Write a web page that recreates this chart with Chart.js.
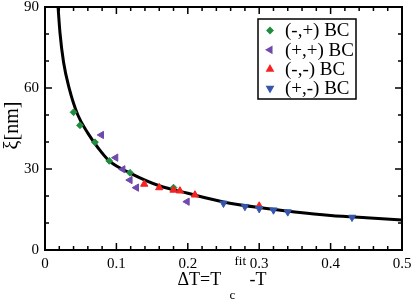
<!DOCTYPE html>
<html>
<head>
<meta charset="utf-8">
<script src="https://cdn.jsdelivr.net/npm/chart.js@4/dist/chart.umd.min.js"></script>
<style>
  html, body { margin: 0; padding: 0; background: #fff; }
  #wrap { width: 412px; height: 302px; }
</style>
</head>
<body>
<div id="wrap"><canvas id="xiChart" width="412" height="302"></canvas></div>
<script>
// ===== Data =====

// (-,+) BC  green diamonds
const mpT  = [0.040, 0.049, 0.070, 0.090, 0.119, 0.180];
const mpXi = [51.0, 46.2, 39.9, 33.0, 28.6, 23.1];

// (+,+) BC  purple left triangles
const ppT  = [0.079, 0.099, 0.109, 0.119, 0.128, 0.199];
const ppXi = [42.6, 34.2, 29.9, 25.9, 23.1, 17.9];

// (-,-) BC  red up triangles
const mmT  = [0.139, 0.160, 0.180, 0.189, 0.210, 0.300];
const mmXi = [24.4, 23.1, 22.2, 21.9, 20.4, 16.3];

// (+,-) BC  blue down triangles
const pmT  = [0.250, 0.280, 0.300, 0.320, 0.340, 0.430];
const pmXi = [17.3, 16.1, 15.3, 14.8, 14.1, 12.1];

// fitted curve, points
const fitT  = [0.0175, 0.021, 0.026, 0.034, 0.046, 0.060, 0.075, 0.090, 0.120, 0.160, 0.200, 0.250, 0.300, 0.350, 0.400, 0.450, 0.500];
const fitXi = [93.0, 80.4, 69.5, 59.8, 50.0, 43.3, 37.6, 33.0, 28.4, 23.8, 21.0, 17.8, 15.7, 14.1, 12.8, 11.9, 11.1];

// axis ticks
const xTicks = [0, 0.1, 0.2, 0.3, 0.4, 0.5];
const yTicks = [0, 30, 60, 90];
const xMinorStep = 0.02;
const yMinorStep = 10;

const seriesLabels = ["(-,+) BC", "(+,+) BC", "(-,-) BC", "(+,-) BC"];

const SERIF = "'Liberation Serif', 'DejaVu Serif', serif";

const pts = (xs, ys) => xs.map((x, i) => ({ x: x, y: ys[i] }));

// ===== Frame, inward ticks, titles and legend =====
const decor = {
  id: "decor",
  afterDraw(chart) {
    const ctx = chart.ctx;
    const a = chart.chartArea;
    const xs = chart.scales.x;
    const ys = chart.scales.y;
    ctx.save();
    ctx.strokeStyle = "#000";

    // ticks on all four sides, pointing in
    ctx.lineWidth = 1.5;
    ctx.beginPath();
    for (let v = xs.min; v <= xs.max + 1e-9; v += xMinorStep) {
      const px = xs.getPixelForValue(v);
      const major = xTicks.some(t => Math.abs(t - v) < 1e-6);
      const len = major ? 7 : 4;
      ctx.moveTo(px, a.bottom); ctx.lineTo(px, a.bottom - len);
      ctx.moveTo(px, a.top); ctx.lineTo(px, a.top + len);
    }
    for (let v = ys.min; v <= ys.max + 1e-9; v += yMinorStep) {
      const py = ys.getPixelForValue(v);
      const major = yTicks.some(t => Math.abs(t - v) < 1e-6);
      const len = major ? 7 : 4;
      ctx.moveTo(a.left, py); ctx.lineTo(a.left + len, py);
      ctx.moveTo(a.right, py); ctx.lineTo(a.right - len, py);
    }
    ctx.stroke();

    // frame
    ctx.lineWidth = 2;
    ctx.strokeRect(a.left, a.top, a.right - a.left, a.bottom - a.top);

    // x title: ΔT=T_c^fit-T
    ctx.fillStyle = "#000";
    ctx.textBaseline = "alphabetic";
    ctx.textAlign = "left";
    const cx = (a.left + a.right) / 2;
    const x0 = cx - 46;
    ctx.font = "18px " + SERIF;
    ctx.fillText("\u0394T=T", x0, 285);
    ctx.font = "13px " + SERIF;
    ctx.fillText("c", x0 + 52, 299);
    ctx.fillText("fit", x0 + 57, 265);
    ctx.font = "18px " + SERIF;
    ctx.fillText("-T", x0 + 72, 285);

    // y title
    ctx.save();
    ctx.translate(13, (a.top + a.bottom) / 2 - 3);
    ctx.rotate(-Math.PI / 2);
    ctx.textAlign = "center";
    ctx.textBaseline = "middle";
    ctx.font = "20px " + SERIF;
    ctx.fillText("\u03be[nm]", 0, 0);
    ctx.restore();

    // legend with box
    const lx = 258, ly = 19, lw = 98, lh = 80;
    ctx.fillStyle = "#fff";
    ctx.fillRect(lx, ly, lw, lh);
    ctx.lineWidth = 1.5;
    ctx.strokeStyle = "#000";
    ctx.strokeRect(lx, ly, lw, lh);
    ctx.font = "19px " + SERIF;
    ctx.textBaseline = "middle";
    ctx.textAlign = "left";
    seriesLabels.forEach((lab, i) => {
      const ds = chart.data.datasets[i];
      const rowY = ly + 11.5 + i * 19.3;
      ctx.fillStyle = ds.backgroundColor;
      ctx.strokeStyle = ds.borderColor;
      Chart.helpers.drawPoint(ctx, {
        pointStyle: ds.pointStyle,
        rotation: ds.rotation || 0,
        radius: ds.pointRadius * 0.85,
        borderWidth: 1
      }, lx + 12, rowY);
      ctx.fillStyle = "#000";
      ctx.fillText(lab, lx + 27, rowY + 1);
    });
    ctx.restore();
  }
};

// ===== Chart =====
const ctx = document.getElementById("xiChart").getContext("2d");

new Chart(ctx, {
  type: "scatter",
  data: {
    datasets: [
      {
        label: seriesLabels[0], data: pts(mpT, mpXi),
        pointStyle: "rectRot", pointRadius: 3.4, pointBorderWidth: 1,
        backgroundColor: "#1f8c3e", borderColor: "#1f8c3e", order: 4
      },
      {
        label: seriesLabels[1], data: pts(ppT, ppXi),
        pointStyle: "triangle", rotation: -90, pointRadius: 4.2, pointBorderWidth: 1,
        backgroundColor: "#7049ad", borderColor: "#7049ad", order: 3
      },
      {
        label: seriesLabels[2], data: pts(mmT, mmXi),
        pointStyle: "triangle", pointRadius: 4.2, pointBorderWidth: 1,
        backgroundColor: "#f52222", borderColor: "#f52222", order: 2
      },
      {
        label: seriesLabels[3], data: pts(pmT, pmXi),
        pointStyle: "triangle", rotation: 180, pointRadius: 4.2, pointBorderWidth: 1,
        backgroundColor: "#3656ad", borderColor: "#3656ad", order: 1
      },
      {
        label: "fit", data: pts(fitT, fitXi),
        type: "line", showLine: true, pointRadius: 0,
        borderColor: "#000", borderWidth: 3, fill: false,
        cubicInterpolationMode: "monotone", order: 10
      }
    ]
  },
  options: {
    responsive: false,
    animation: false,
    events: [],
    layout: { padding: { top: 7, right: 10, left: 0, bottom: 0 } },
    plugins: {
      legend: { display: false },
      tooltip: { enabled: false }
    },
    scales: {
      x: {
        type: "linear", min: 0, max: 0.5,
        grid: { display: false, drawTicks: false },
        border: { display: false },
        afterBuildTicks: s => { s.ticks = xTicks.map(v => ({ value: v })); },
        afterFit: s => { s.height = 52; s.paddingLeft = 0; s.paddingRight = 0; },
        ticks: {
          padding: 5, color: "#000", maxRotation: 0,
          font: { family: SERIF, size: 15 },
          callback: v => String(+v.toFixed(1))
        }
      },
      y: {
        type: "linear", min: 0, max: 90,
        grid: { display: false, drawTicks: false },
        border: { display: false },
        afterBuildTicks: s => { s.ticks = yTicks.map(v => ({ value: v })); },
        afterFit: s => { s.width = 45; s.paddingTop = 0; s.paddingBottom = 0; },
        ticks: {
          padding: 6, color: "#000",
          font: { family: SERIF, size: 15 },
          callback: v => String(v)
        }
      }
    }
  },
  plugins: [decor]
});
</script>
</body>
</html>
